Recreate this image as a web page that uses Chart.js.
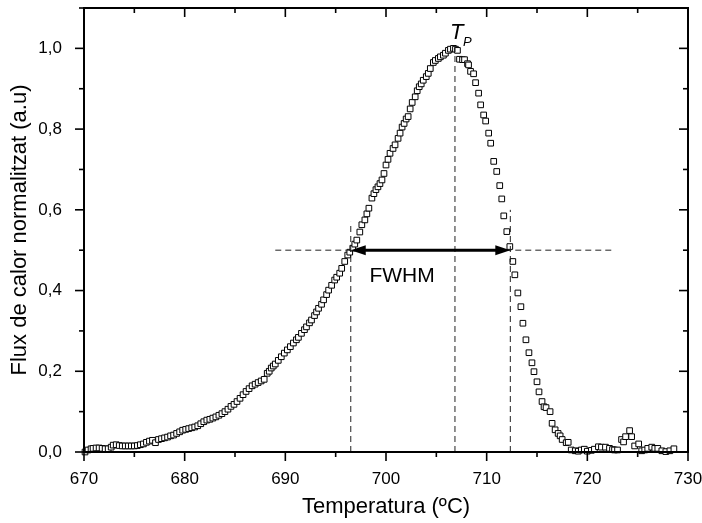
<!DOCTYPE html>
<html><head><meta charset="utf-8">
<script src="https://cdn.jsdelivr.net/npm/chart.js@4"></script>
<style>html,body{margin:0;padding:0;background:#fff}#wrap{width:702px;height:523px}</style>
</head><body><div id="wrap"><canvas id="c" width="702" height="523"></canvas></div>
<script>
// ---- data ----
const temperature = [
670.1,670.4,670.7,670.9,671.2,671.5,671.8,672.1,672.4,672.7,672.9,673.2,673.5,673.8,674.1,674.4,674.7,675.0,675.3,675.6,
675.9,676.2,676.5,676.8,677.1,677.4,677.7,678.0,678.3,678.6,678.9,679.2,679.5,679.8,680.1,680.4,680.7,681.0,681.3,681.6,
681.9,682.2,682.5,682.8,683.1,683.4,683.7,684.0,684.3,684.6,684.9,685.2,685.5,685.8,686.1,686.4,686.7,687.0,687.3,687.6,
687.9,688.2,688.4,688.6,688.8,689.0,689.3,689.6,689.9,690.2,690.5,690.8,691.1,691.3,691.6,691.9,692.1,692.4,692.6,692.9,
693.1,693.3,693.6,693.8,694.1,694.3,694.6,694.9,695.1,695.4,695.6,695.9,696.2,696.4,696.7,696.9,697.1,697.4,697.6,697.9,
698.1,698.3,698.6,698.8,699.0,699.2,699.4,699.6,699.8,700.0,700.2,700.4,700.7,700.9,701.2,701.4,701.6,701.8,702.0,702.2,
702.4,702.6,702.9,703.1,703.3,703.5,703.7,704.0,704.2,704.4,704.7,704.9,705.2,705.4,705.7,705.9,706.2,706.4,706.7,706.9,
707.1,707.3,707.6,707.8,708.1,708.2,708.4,708.7,708.9,709.2,709.4,709.7,709.9,710.2,710.4,710.7,711.0,711.3,711.5,711.7,
712.0,712.3,712.6,712.8,713.1,713.4,713.6,713.9,714.2,714.5,714.7,715.0,715.2,715.5,715.7,715.9,716.3,716.5,716.8,717.1,
717.3,717.5,717.9,718.1,718.4,718.8,719.1,719.4,719.7,720.0,720.4,720.7,721.1,721.4,721.8,722.2,722.5,722.7,723.0,723.4,
723.6,723.8,724.2,724.4,724.7,725.1,725.4,725.7,726.0,726.4,726.7,727.0,727.4,727.8,728.2,728.6
];
const heatFlux = [
0.000,0.005,0.008,0.009,0.010,0.010,0.009,0.008,0.008,0.012,0.017,0.018,0.016,0.015,0.015,0.015,0.015,0.015,0.016,0.018,
0.020,0.024,0.027,0.029,0.023,0.031,0.033,0.035,0.037,0.040,0.042,0.046,0.050,0.054,0.056,0.058,0.060,0.062,0.065,0.070,
0.075,0.079,0.081,0.084,0.087,0.091,0.095,0.100,0.106,0.113,0.118,0.125,0.133,0.142,0.150,0.157,0.164,0.168,0.172,0.176,
0.180,0.195,0.200,0.208,0.213,0.218,0.227,0.236,0.245,0.253,0.261,0.270,0.278,0.284,0.294,0.303,0.310,0.320,0.327,0.338,
0.347,0.356,0.366,0.377,0.390,0.401,0.413,0.426,0.433,0.443,0.455,0.472,0.488,0.495,0.505,0.515,0.525,0.545,0.563,0.575,
0.590,0.604,0.629,0.640,0.650,0.657,0.665,0.674,0.690,0.711,0.725,0.740,0.752,0.761,0.777,0.790,0.805,0.814,0.825,0.831,
0.850,0.866,0.880,0.895,0.905,0.912,0.921,0.930,0.938,0.950,0.965,0.970,0.975,0.979,0.983,0.988,0.995,0.998,1.000,0.998,
0.995,0.973,0.972,0.972,0.962,0.959,0.943,0.937,0.915,0.889,0.860,0.835,0.820,0.790,0.765,0.720,0.695,0.660,0.627,0.585,
0.546,0.509,0.472,0.439,0.394,0.360,0.319,0.278,0.246,0.221,0.199,0.174,0.149,0.125,0.112,0.110,0.100,0.071,0.055,0.046,
0.040,0.031,0.023,0.024,0.005,0.003,0.002,0.005,0.007,0.002,0.004,0.007,0.013,0.012,0.012,0.009,0.006,0.005,0.005,0.031,
0.025,0.038,0.053,0.038,0.015,0.020,0.003,0.005,0.009,0.012,0.009,0.009,0.003,0.001,0.003,0.008
];
const xTickValues = [670,680,690,700,710,720,730];
const yTickValues = [0,0.2,0.4,0.6,0.8,1.0];
// annotation values (temperatures / heights)
const fwhmLeftT = 696.5, fwhmRightT = 712.35, peakT = 706.85, halfMax = 0.5;
const halfLineFromT = 689, halfLineToT = 722.6;
const leftLineTop = 0.57, peakLineTop = 1.01, rightLineTop = 0.60;

const FONT = "'Liberation Sans', Arial, Helvetica, sans-serif";
const points = temperature.map((t, i) => ({x: t, y: heatFlux[i]}));
const dashStyle = {showLine: true, pointRadius: 0, borderColor: '#222', borderWidth: 1, borderDash: [6, 4], fill: false, clip: false};

const framePlugin = {
  id: 'frame',
  afterDatasetsDraw(chart) {
    const {ctx, chartArea: a, scales: {x, y}} = chart;
    ctx.save();
    // FWHM double arrow
    const yA = y.getPixelForValue(halfMax);
    const x1 = x.getPixelForValue(fwhmLeftT), x2 = x.getPixelForValue(fwhmRightT);
    ctx.strokeStyle = '#000'; ctx.fillStyle = '#000'; ctx.lineWidth = 3;
    ctx.beginPath(); ctx.moveTo(x1 + 8, yA); ctx.lineTo(x2 - 8, yA); ctx.stroke();
    const head = (xt, dir) => { ctx.beginPath(); ctx.moveTo(xt, yA); ctx.lineTo(xt + dir * 15, yA - 5); ctx.lineTo(xt + dir * 15, yA + 5); ctx.closePath(); ctx.fill(); };
    head(x1, 1); head(x2, -1);
    // labels
    ctx.fillStyle = '#000';
    ctx.textBaseline = 'alphabetic'; ctx.textAlign = 'center';
    ctx.font = '21px ' + FONT;
    ctx.fillText('FWHM', x.getPixelForValue(701.6), y.getPixelForValue(0.421));
    ctx.textAlign = 'left';
    const tx = x.getPixelForValue(peakT);
    const ty = y.getPixelForValue(1.0);
    ctx.font = 'italic 22px ' + FONT;
    ctx.fillText('T', tx - 5, ty - 9);
    ctx.font = 'italic 13px ' + FONT;
    ctx.fillText('P', tx + 8, ty - 2.5);
    ctx.restore();
  },
  afterDraw(chart) {
    const {ctx, chartArea: a, scales: {x, y}} = chart;
    ctx.save();
    ctx.strokeStyle = '#000';
    const seg = (ax, ay, bx, by) => { ctx.beginPath(); ctx.moveTo(ax, ay); ctx.lineTo(bx, by); ctx.stroke(); };
    ctx.lineWidth = 1.6;
    for (let v = 670; v <= 730; v += 5) {
      const px = x.getPixelForValue(v);
      const len = (v % 10 === 0) ? 9 : 5;
      seg(px, a.bottom, px, a.bottom + len);
      seg(px, a.top, px, a.top + len);
    }
    for (let k = 0; k <= 11; k++) {
      const v = k / 10;
      const py = y.getPixelForValue(v);
      const len = (k % 2 === 0) ? 9 : 5;
      seg(a.left - len, py, a.left, py);
      seg(a.right, py, a.right - len, py);
    }
    ctx.lineWidth = 2;
    ctx.strokeRect(a.left, a.top, a.right - a.left, a.bottom - a.top);
    ctx.restore();
  }
};

new Chart(document.getElementById('c'), {
  type: 'scatter',
  data: {
    datasets: [
      Object.assign({data: [{x: halfLineFromT, y: halfMax}, {x: halfLineToT, y: halfMax}]}, dashStyle),
      Object.assign({data: [{x: fwhmLeftT, y: 0}, {x: fwhmLeftT, y: leftLineTop}]}, dashStyle),
      Object.assign({data: [{x: peakT, y: 0}, {x: peakT, y: peakLineTop}]}, dashStyle),
      Object.assign({data: [{x: fwhmRightT, y: 0}, {x: fwhmRightT, y: rightLineTop}]}, dashStyle),
      {data: points, pointStyle: 'rect', pointRadius: 4, pointBorderWidth: 1, pointBorderColor: '#000', pointBackgroundColor: '#fff', showLine: false, clip: false}
    ]
  },
  options: {
    responsive: false, animation: false, devicePixelRatio: 1,
    layout: {padding: {top: 8, right: 14, left: 0, bottom: 0}},
    plugins: {legend: {display: false}, tooltip: {enabled: false}},
    scales: {
      x: {
        type: 'linear', min: 670, max: 730,
        grid: {display: false}, border: {display: false},
        afterFit: s => { s.height = 71; s.paddingLeft = 0; s.paddingRight = 0; },
        afterBuildTicks: s => { s.ticks = xTickValues.map(v => ({value: v})); },
        ticks: {color: '#000', font: {family: FONT, size: 17}, padding: 9, maxRotation: 0, callback: v => String(v)},
        title: {display: true, text: 'Temperatura (ºC)', color: '#000', font: {family: FONT, size: 22}, padding: {top: 0, bottom: 3}}
      },
      y: {
        type: 'linear', min: 0, max: 1.1,
        grid: {display: false}, border: {display: false},
        afterFit: s => { s.width = 84; s.paddingTop = 0; s.paddingBottom = 0; },
        afterBuildTicks: s => { s.ticks = yTickValues.map(v => ({value: v})); },
        ticks: {color: '#000', font: {family: FONT, size: 17}, padding: 14, callback: v => v.toFixed(1).replace('.', ',')},
        title: {display: true, text: 'Flux de calor normalitzat (a.u)', color: '#000', font: {family: FONT, size: 22}, padding: {top: 7, bottom: 0}}
      }
    }
  },
  plugins: [framePlugin]
});
</script>
</body></html>
